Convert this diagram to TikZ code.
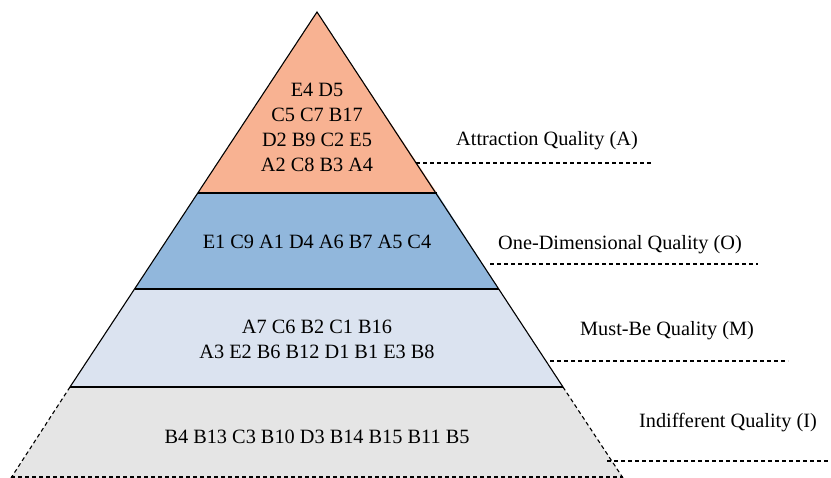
\documentclass[tikz,border=0pt]{standalone}
\usepackage{fontspec}
\setmainfont{Liberation Serif}
\usetikzlibrary{positioning}
\definecolor{attract}{RGB}{248,178,146}
\definecolor{onedim}{RGB}{145,183,220}
\definecolor{mustbe}{RGB}{219,227,240}
\definecolor{indiff}{RGB}{229,229,229}

\begin{document}
\begin{tikzpicture}[x=1pt,y=-1pt,
	txt/.style={font=\fontsize{20.3}{25}\selectfont, align=center, inner sep=0pt},
	lead/.style={dash pattern=on 4pt off 3pt, line width=1.1pt}]
	\useasboundingbox (0,0) rectangle (831,478);
	% the four levels
	\fill [attract] (317,12) -- (198,193) -- (437,193) -- cycle;
	\fill [onedim] (198,193) -- (135,289) -- (499,289) -- (437,193) -- cycle;
	\fill [mustbe] (135,289) -- (70,387) -- (563,387) -- (499,289) -- cycle;
	\fill [indiff] (70,387) -- (11,478) -- (623,478) -- (563,387) -- cycle;
	\draw [line width=1.1pt] (70,387) -- (317,12) -- (563,387);
	\foreach \y/\l/\r in {193/198/437,289/135/499,387/70/563}
	\draw [line width=1.1pt] (\l,\y) -- (\r,\y);
	\draw [lead] (70,387) -- (11,478);
	\draw [lead] (563,387) -- (623,478);
	\draw [lead] (11,477) -- (623,477);
	% requirements
	\node [txt] (attr) at (317,127) {E4 D5\\C5 C7 B17\\D2 B9 C2 E5\\A2 C8 B3 A4};
	\node [txt] (onedim) at (317,242) {E1 C9 A1 D4 A6 B7 A5 C4};
	\node [txt] (must) at (317,339) {A7 C6 B2 C1 B16\\A3 E2 B6 B12 D1 B1 E3 B8};
	\node [txt] (indiff) at (317,437) {B4 B13 C3 B10 D3 B14 B15 B11 B5};
	% category labels
	\node [txt] (lA) at (547,141) {Attraction Quality (A)};
	\node [txt] (lO) at (620,245) {One-Dimensional Quality (O)};
	\node [txt] (lM) at (667,331) {Must-Be Quality (M)};
	\node [txt] (lI) at (728,423) {Indifferent Quality (I)};
	\coordinate (a1) at (416,163); \coordinate (a2) at (652,163);
	\coordinate (o1) at (490,264); \coordinate (o2) at (758,264);
	\coordinate (m1) at (550,361); \coordinate (m2) at (788,361);
	\coordinate (i1) at (607,461); \coordinate (i2) at (831,461);
	\foreach \p in {a,o,m,i}
	\draw [lead] (\p1) -- (\p2);
\end{tikzpicture}
\end{document}
